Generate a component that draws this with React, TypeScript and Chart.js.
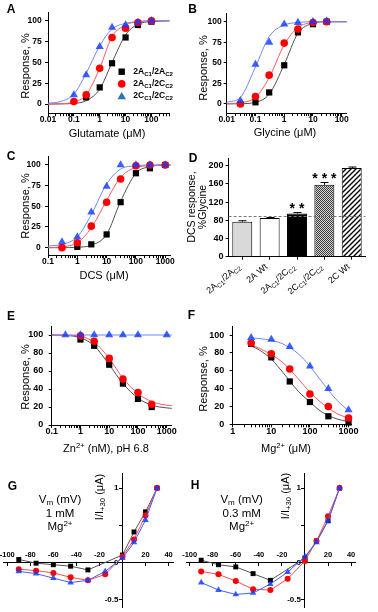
import React, { useEffect, useRef } from 'react';
import { Chart, registerables } from 'chart.js';

Chart.register(...registerables);

const FONT = "'Liberation Sans', Arial, Helvetica, sans-serif";
const PAGE_W = 378;
const PAGE_H = 612;

// ---------- colours ----------
const MK_BLACK = '#000000';
const MK_RED = '#ff0000';
const MK_BLUE = 'rgba(20, 60, 255, 0.82)';
const FIT_BLACK = '#505050';
const FIT_RED = '#ff5a5a';
const FIT_BLUE = '#7088ff';
const IV_LINE_BLACK = '#555555';
const IV_LINE_RED = '#ff4a4a';
const IV_LINE_BLUE = '#4060ff';
const LEGEND_BLUE = '#2a72b8';

// ---------- Panel A : glutamate ----------
const A_X = [0.1, 0.3, 1, 3, 10, 30, 100];
const A_BLACK = [null, 8, 20, 49, 80, 95, 99];
const A_RED = [3, 11, 43, 80, 91, 98, 100];
const A_BLUE = [11, 35, 69, 92, 95, 98, 100];
const A_FIT_X = [0.01, 0.03, 0.1, 0.3, 1, 3, 10, 30, 100, 500];
const A_FIT_BLACK = [0, 0.2, 0.8, 4, 18, 50, 83, 96, 99, 100];
const A_FIT_RED = [0, 0.3, 2.5, 11, 43, 81, 95, 99, 100, 100];
const A_FIT_BLUE = [1, 3, 12, 37, 70, 90, 97, 99, 100, 100];
const LEGEND_A = ['2A_{C1}/2A_{C2}', '2A_{C1}/2C_{C2}', '2C_{C1}/2C_{C2}'];

// ---------- Panel B : glycine ----------
const B_X = [0.03, 0.1, 0.3, 1, 3, 10, 30];
const B_BLACK = [null, 2, 14, 47, 87, 97, 100];
const B_RED = [0, 9, 35, 74, 91, 99, 100];
const B_BLUE = [4, 48, 75, 97, 99, 100, 101];
const B_FIT_X = [0.01, 0.03, 0.1, 0.3, 1, 3, 10, 30, 100, 150];
const B_FIT_BLUE = [2, 8, 45, 82, 96, 99, 100, 100, 100, 100];
const B_FIT_RED = [0.3, 1.5, 8, 32, 72, 93, 99, 100, 100, 100];
const B_FIT_BLACK = [0, 0.3, 2, 12, 48, 86, 98, 100, 100, 100];

// ---------- Panel C : DCS ----------
const C_X = [0.3, 1, 3, 10, 30, 100, 300, 1000];
const C_BLACK = [null, 1, 4, 16, 55, 90, 96, 100];
const C_RED = [0, 6, 26, 55, 83, 99, 100, 100];
const C_BLUE = [7, 13, 43, 74, 100, 100, 100, 100];
const C_FIT_X = [0.1, 0.3, 1, 3, 10, 30, 100, 300, 1000, 1500];
const C_FIT_BLUE = [2, 4, 13, 40, 77, 95, 99, 100, 100, 100];
const C_FIT_RED = [0, 1, 6, 24, 57, 85, 97, 99, 100, 100];
const C_FIT_BLACK = [0, 0, 0.5, 3, 16, 56, 90, 98, 100, 100];

// ---------- Panel D : DCS response bars ----------
const D_LABELS = ['2A_{C1}/2A_{C2}', '2A Wt', '2A_{C1}/2C_{C2}', '2C_{C1}/2C_{C2}', '2C Wt'];
const D_VALUES = [77, 85, 95, 158, 195];
const D_ERR = [2, 1, 2, 5, 2];
const D_SIG = ['', '', '**', '***', ''];
const D_REF = 90;
const D_YTICKS = [0, 40, 80, 120, 160, 200];

// ---------- Panel E : Zn ----------
const E_X = [0.3, 1, 3, 10, 30, 100, 300, 1000];
const E_BLUE = [100, 100, 100, 100, 100, 100, null, 100];
const E_RED = [null, 99, 93, 74, 51, 36, 23, null];
const E_BLACK = [null, 95, 88, 67, 46, 29, 20, null];
const E_FIT_X = [0.1, 0.3, 1, 3, 10, 30, 100, 300, 1000, 1500];
const E_FIT_BLUE = [100, 100, 100, 100, 100, 100, 100, 100, 100, 100];
const E_FIT_RED = [100, 99.8, 98.5, 92, 74, 52, 35, 26, 22, 21.5];
const E_FIT_BLACK = [100, 99.5, 97, 88, 67, 46, 30, 22, 19, 18.5];

// ---------- Panel F : Mg ----------
const F_X = [3, 10, 30, 100, 300, 1000];
const F_BLUE = [97, 95, 87, 65, 40, 16];
const F_RED = [91, 79, 62, 34, 20, 7];
const F_BLACK = [90, 75, 48, 25, 9, 2];
const F_FIT_X = [3, 5, 10, 20, 50, 100, 200, 500, 1000];
const F_FIT_BLUE = [97, 96, 94, 90, 79, 65, 48, 27, 15];
const F_FIT_RED = [89, 85, 78, 69, 51, 36, 24, 12, 7];
const F_FIT_BLACK = [88, 83, 73, 58, 37, 25, 14, 6, 3];

// ---------- Panels G/H : I-V ----------
const IV_X = [-90, -75, -60, -45, -30, -15, 0, 10, 20, 30];
const G_BLACK = [0.04, -0.01, -0.03, -0.05, -0.1, null, 0.1, 0.41, 0.68, 1.0];
const G_RED = [-0.09, -0.11, -0.14, -0.2, -0.24, -0.16, 0.08, 0.31, 0.63, 1.0];
const G_BLUE = [-0.12, -0.15, -0.21, -0.27, -0.24, -0.12, 0.06, 0.27, 0.57, 1.0];
const H_BLACK = [0.03, -0.03, -0.06, -0.15, -0.24, null, 0.06, 0.29, 0.56, 1.0];
const H_RED = [-0.12, -0.16, -0.25, -0.36, -0.37, -0.22, 0.02, 0.29, 0.62, 1.0];
const H_BLUE = [-0.27, -0.37, -0.43, -0.41, -0.29, -0.13, 0.08, 0.27, 0.56, 1.0];
const IV_XTICKS = [-100, -80, -60, -40, -20, 0, 20, 40];
const IV_YTICKS = [-0.5, 0, 0.5, 1];

const Y_TICKS_25 = [0, 25, 50, 75, 100];
const Y_TICKS_20 = [0, 20, 40, 60, 80, 100];

// ---------- helpers ----------
type Num = number | null;
type Box = { l: number; t: number; r: number; b: number };

const pts = (xs: number[], ys: Num[]) =>
  xs.map((x, i) => ({ x, y: ys[i] })).filter((p) => p.y !== null && p.y !== undefined);

const markers = (xs: number[], ys: Num[], style: string, color: string, r: number, order: number) => ({
  data: pts(xs, ys),
  showLine: false,
  pointStyle: style,
  pointRadius: r,
  pointHoverRadius: r,
  pointBackgroundColor: color,
  pointBorderColor: color,
  pointBorderWidth: 0,
  order,
  clip: false,
});

const fitLine = (xs: number[], ys: Num[], color: string, order: number) => ({
  data: pts(xs, ys),
  pointRadius: 0,
  borderColor: color,
  borderWidth: 1,
  cubicInterpolationMode: 'monotone',
  fill: false,
  order,
  clip: false,
});

const ivSeries = (xs: number[], ys: Num[], style: string, color: string, line: string, r: number, order: number) => ({
  data: pts(xs, ys),
  showLine: true,
  borderColor: line,
  borderWidth: 1,
  tension: 0,
  pointStyle: style,
  pointRadius: r,
  pointHoverRadius: r,
  pointBackgroundColor: color,
  pointBorderColor: color,
  pointBorderWidth: 0,
  order,
  clip: false,
});

const GRID = { drawOnChartArea: false, drawTicks: true, tickLength: 3, color: '#000', lineWidth: 1 };
const BORDER = { display: true, color: '#000', width: 1 };
const tickFont = (size: number) => ({ family: FONT, size, weight: 'bold' as const });

const zeroPad = (s: any) => {
  s.paddingLeft = 0; s.paddingRight = 0; s.paddingTop = 0; s.paddingBottom = 0;
};
const fitXTo = (h: number) => (s: any) => { s.height = h; zeroPad(s); };
const fitYTo = (w: number) => (s: any) => { s.width = w; zeroPad(s); };

const isDecade = (v: number) => Math.abs(Math.log10(v) - Math.round(Math.log10(v))) < 1e-6;
const decadeLabel = (v: number) => {
  const e = Math.round(Math.log10(v));
  return e < 0 ? Math.pow(10, e).toFixed(-e) : String(Math.round(Math.pow(10, e)));
};
function logTicks(min: number, max: number) {
  const out: { value: number }[] = [];
  for (let e = Math.floor(Math.log10(min)); e <= Math.ceil(Math.log10(max)); e++) {
    for (let m = 1; m <= 9; m++) {
      const v = parseFloat((m * Math.pow(10, e)).toPrecision(6));
      if (v >= min * 0.999 && v <= max * 1.001) out.push({ value: v });
    }
  }
  return out;
}

function logX(min: number, max: number, size: number, pad: number, box: Box) {
  return {
    type: 'logarithmic',
    min,
    max,
    afterBuildTicks: (s: any) => { s.ticks = logTicks(min, max); },
    afterFit: fitXTo(PAGE_H - box.b),
    grid: GRID,
    border: BORDER,
    ticks: {
      autoSkip: false, maxRotation: 0, minRotation: 0,
      font: tickFont(size), color: '#000', padding: pad,
      callback: (v: any) => (isDecade(Number(v)) ? decadeLabel(Number(v)) : ''),
    },
  };
}
function linY(min: number, max: number, ticks: number[], size: number, pad: number, box: Box) {
  return {
    type: 'linear',
    min,
    max,
    afterBuildTicks: (s: any) => { s.ticks = ticks.map((value) => ({ value })); },
    afterFit: fitYTo(box.l),
    grid: GRID,
    border: BORDER,
    ticks: { font: tickFont(size), color: '#000', padding: pad, callback: (v: any) => String(v) },
  };
}

// chart area = box; left/bottom room is taken by the axis boxes
const edgePad = (box: Box) => ({ left: 0, top: box.t, right: PAGE_W - box.r, bottom: 0 });
// chart area = box; positioned (crossing) axes take no room
const fullPad = (box: Box) => ({ left: box.l, top: box.t, right: PAGE_W - box.r, bottom: PAGE_H - box.b });

function baseConfig(type: string, data: any, padding: any, scales: any, plugins: any[] = []) {
  return {
    type,
    data,
    options: {
      responsive: false,
      maintainAspectRatio: false,
      animation: false,
      devicePixelRatio: 1,
      events: [],
      layout: { padding },
      plugins: { legend: { display: false }, tooltip: { enabled: false } },
      scales,
    },
    plugins,
  };
}

// rich text with _{sub}
function parseRich(s: string) {
  const out: { t: string; sub: boolean }[] = [];
  const re = /_\{([^}]*)\}/g;
  let last = 0;
  let m: RegExpExecArray | null;
  while ((m = re.exec(s))) {
    if (m.index > last) out.push({ t: s.slice(last, m.index), sub: false });
    out.push({ t: m[1], sub: true });
    last = re.lastIndex;
  }
  if (last < s.length) out.push({ t: s.slice(last), sub: false });
  return out;
}
function drawRich(ctx: CanvasRenderingContext2D, s: string, x: number, y: number, size: number, weight: string, align: 'left' | 'right') {
  const segs = parseRich(s);
  const fontOf = (sub: boolean) => `${weight} ${sub ? size * 0.72 : size}px ${FONT}`;
  let total = 0;
  const widths = segs.map((sg) => {
    ctx.font = fontOf(sg.sub);
    const w = ctx.measureText(sg.t).width;
    total += w;
    return w;
  });
  let cx = align === 'right' ? x - total : x;
  ctx.textAlign = 'left';
  ctx.textBaseline = 'middle';
  segs.forEach((sg, i) => {
    ctx.font = fontOf(sg.sub);
    ctx.fillText(sg.t, cx, sg.sub ? y + size * 0.3 : y);
    cx += widths[i];
  });
}

// ---------- plugins ----------
const LEGEND_STYLES = ['rect', 'circle', 'triangle'];
const LEGEND_COLORS = [MK_BLACK, MK_RED, LEGEND_BLUE];
const legendPlugin = {
  id: 'legendA',
  afterDatasetsDraw(chart: any) {
    const { ctx, chartArea } = chart;
    const x0 = chartArea.left + 73.7;
    const y0 = chartArea.top + 59.2;
    ctx.save();
    LEGEND_A.forEach((lab, i) => {
      const y = y0 + i * 12.2;
      ctx.fillStyle = LEGEND_COLORS[i];
      ctx.beginPath();
      if (LEGEND_STYLES[i] === 'rect') ctx.rect(x0 - 3.2, y - 3.2, 6.4, 6.4);
      else if (LEGEND_STYLES[i] === 'circle') ctx.arc(x0, y, 3.8, 0, Math.PI * 2);
      else { ctx.moveTo(x0, y - 4.2); ctx.lineTo(x0 - 4.3, y + 3.2); ctx.lineTo(x0 + 4.3, y + 3.2); ctx.closePath(); }
      ctx.fill();
      ctx.fillStyle = '#000';
      drawRich(ctx, lab, x0 + 11.6, y, 8.5, 'bold', 'left');
    });
    ctx.restore();
  },
};

const dPlugin = {
  id: 'dExtras',
  afterDatasetsDraw(chart: any) {
    const { ctx, chartArea, scales } = chart;
    const y = scales.y;
    ctx.save();
    const yr = Math.round(y.getPixelForValue(D_REF)) + 0.5;
    ctx.strokeStyle = '#7a7a7a';
    ctx.lineWidth = 1;
    ctx.setLineDash([3, 2]);
    ctx.beginPath();
    ctx.moveTo(chartArea.left, yr);
    ctx.lineTo(chartArea.right, yr);
    ctx.stroke();
    ctx.setLineDash([]);
    const meta = chart.getDatasetMeta(0);
    meta.data.forEach((bar: any, i: number) => {
      const top = y.getPixelForValue(D_VALUES[i] + D_ERR[i]);
      const bx = Math.round(bar.x) + 0.5;
      ctx.strokeStyle = '#000';
      ctx.lineWidth = 1;
      ctx.beginPath();
      ctx.moveTo(bx, bar.y);
      ctx.lineTo(bx, top);
      ctx.moveTo(bx - 4, top);
      ctx.lineTo(bx + 4, top);
      ctx.stroke();
      if (D_SIG[i]) {
        ctx.fillStyle = '#000';
        ctx.font = `bold 14px ${FONT}`;
        ctx.textAlign = 'center';
        ctx.textBaseline = 'alphabetic';
        ctx.fillText(D_SIG[i].split('').join(' '), bar.x, top + 0.5);
      }
      ctx.save();
      ctx.translate(bar.x - 3, chartArea.bottom + 9);
      ctx.rotate((-40 * Math.PI) / 180);
      ctx.fillStyle = '#000';
      drawRich(ctx, D_LABELS[i], 0, 0, 9, 'normal', 'right');
      ctx.restore();
    });
    ctx.restore();
  },
};

function makeChecker() {
  const c = document.createElement('canvas');
  c.width = 2; c.height = 2;
  const g = c.getContext('2d')!;
  g.fillStyle = '#d8d8d8'; g.fillRect(0, 0, 2, 2);
  g.fillStyle = '#3a3a3a'; g.fillRect(0, 0, 1, 1); g.fillRect(1, 1, 1, 1);
  return g.createPattern(c, 'repeat');
}
function makeHatch() {
  const c = document.createElement('canvas');
  c.width = 5; c.height = 5;
  const g = c.getContext('2d')!;
  g.fillStyle = '#fff'; g.fillRect(0, 0, 5, 5);
  g.strokeStyle = '#000'; g.lineWidth = 1.4;
  g.beginPath();
  g.moveTo(-1, 6); g.lineTo(6, -1);
  g.moveTo(-1, 1); g.lineTo(1, -1);
  g.moveTo(4, 6); g.lineTo(6, 4);
  g.stroke();
  return g.createPattern(c, 'repeat');
}

// ---------- builders ----------
function doseChart(
  X: number[], black: Num[], red: Num[], blue: Num[],
  FX: number[], fb: Num[], fr: Num[], fk: Num[],
  box: Box, scales: any, plugins: any[] = []
) {
  return baseConfig(
    'line',
    {
      datasets: [
        markers(X, blue, 'triangle', MK_BLUE, 4.7, 0),
        markers(X, red, 'circle', MK_RED, 3.8, 1),
        markers(X, black, 'rect', MK_BLACK, 4.4, 2),
        fitLine(FX, fb, FIT_BLUE, 3),
        fitLine(FX, fr, FIT_RED, 4),
        fitLine(FX, fk, FIT_BLACK, 5),
      ],
    },
    edgePad(box),
    scales,
    plugins
  );
}

const BOX_A: Box = { l: 48, t: 12.5, r: 169.5, b: 113.2 };
const BOX_B: Box = { l: 226.7, t: 13.5, r: 346.8, b: 113 };
const BOX_C: Box = { l: 48, t: 156.7, r: 170.4, b: 255.1 };
const BOX_D: Box = { l: 228.6, t: 158.4, r: 365.4, b: 256.7 };
const BOX_E: Box = { l: 51.7, t: 326, r: 171.8, b: 425 };
const BOX_F: Box = { l: 232.7, t: 326.1, r: 351.6, b: 424.3 };
const BOX_G: Box = { l: 3.7, t: 473.2, r: 173.2, b: 607.1 };
const BOX_H: Box = { l: 186.2, t: 473.2, r: 355.7, b: 607.1 };

const buildA = () =>
  doseChart(A_X, A_BLACK, A_RED, A_BLUE, A_FIT_X, A_FIT_BLUE, A_FIT_RED, A_FIT_BLACK, BOX_A,
    { x: logX(0.01, 500, 8.5, -1.5, BOX_A), y: linY(-11, 110, Y_TICKS_25, 8.5, 3.3, BOX_A) },
    [legendPlugin]);

const buildB = () =>
  doseChart(B_X, B_BLACK, B_RED, B_BLUE, B_FIT_X, B_FIT_BLUE, B_FIT_RED, B_FIT_BLACK, BOX_B,
    { x: logX(0.01, 150, 8.5, -1.5, BOX_B), y: linY(-11, 110, Y_TICKS_25, 8.5, 2, BOX_B) });

const buildC = () =>
  doseChart(C_X, C_BLACK, C_RED, C_BLUE, C_FIT_X, C_FIT_BLUE, C_FIT_RED, C_FIT_BLACK, BOX_C,
    { x: logX(0.1, 1500, 8.5, -1.5, BOX_C), y: linY(-9, 110, Y_TICKS_25, 8.5, 4.3, BOX_C) });

const buildE = () =>
  doseChart(E_X, E_BLACK, E_RED, E_BLUE, E_FIT_X, E_FIT_BLUE, E_FIT_RED, E_FIT_BLACK, BOX_E,
    { x: logX(0.1, 1500, 9, -1.5, BOX_E), y: linY(0, 110, Y_TICKS_20, 9, 5.4, BOX_E) });

const buildF = () =>
  doseChart(F_X, F_BLACK, F_RED, F_BLUE, F_FIT_X, F_FIT_BLUE, F_FIT_RED, F_FIT_BLACK, BOX_F,
    { x: logX(1, 1200, 9, -1.5, BOX_F), y: linY(0, 110, Y_TICKS_20, 9, 5.4, BOX_F) });

const buildD = () =>
  baseConfig(
    'bar',
    {
      labels: D_LABELS,
      datasets: [
        {
          data: D_VALUES,
          backgroundColor: ['#d9d9d9', '#ffffff', '#000000', makeChecker(), makeHatch()],
          borderColor: '#000',
          borderWidth: 1,
          barPercentage: 0.73,
          categoryPercentage: 1,
        },
      ],
    },
    edgePad(BOX_D),
    {
      x: { type: 'category', offset: true, afterFit: fitXTo(PAGE_H - BOX_D.b), grid: { ...GRID, offset: false }, border: BORDER, ticks: { display: false } },
      y: linY(0, 216, D_YTICKS, 9, 2, BOX_D),
    },
    [dPlugin]
  );

function ivScales() {
  return {
    x: {
      type: 'linear', min: -103, max: 44, position: { y: 0 },
      afterBuildTicks: (s: any) => { s.ticks = IV_XTICKS.map((value) => ({ value })); },
      afterFit: fitXTo(0), grid: GRID, border: BORDER,
      ticks: { font: tickFont(7.5), color: '#000', padding: -15.5, maxRotation: 0, autoSkip: false,
        callback: (v: any) => (Number(v) === 0 ? '' : String(v)) },
    },
    y: {
      type: 'linear', min: -0.6, max: 1.2, position: { x: 0 },
      afterBuildTicks: (s: any) => { s.ticks = IV_YTICKS.map((value) => ({ value })); },
      afterFit: fitYTo(0), grid: GRID, border: BORDER,
      ticks: { font: tickFont(8), color: '#000', callback: (v: any) => (Number(v) === 0.5 ? '' : `${v}\u2002`) },
    },
  };
}
const ivChart = (black: Num[], red: Num[], blue: Num[], box: Box) =>
  baseConfig(
    'line',
    {
      datasets: [
        ivSeries(IV_X, blue, 'triangle', MK_BLUE, IV_LINE_BLUE, 3.8, 0),
        ivSeries(IV_X, red, 'circle', MK_RED, IV_LINE_RED, 3, 1),
        ivSeries(IV_X, black, 'rect', MK_BLACK, IV_LINE_BLACK, 3.5, 2),
      ],
    },
    fullPad(box),
    ivScales()
  );
const buildG = () => ivChart(G_BLACK, G_RED, G_BLUE, BOX_G);
const buildH = () => ivChart(H_BLACK, H_RED, H_BLUE, BOX_H);

const BUILDERS = [buildA, buildB, buildC, buildD, buildE, buildF, buildG, buildH];

// ---------- components ----------
function ChartCanvas({ build }: { build: () => any }) {
  const ref = useRef<HTMLCanvasElement | null>(null);
  useEffect(() => {
    if (!ref.current) return;
    const chart = new Chart(ref.current, build() as any);
    return () => chart.destroy();
  }, [build]);
  return (
    <canvas
      ref={ref}
      width={PAGE_W}
      height={PAGE_H}
      style={{ position: 'absolute', left: 0, top: 0, width: PAGE_W, height: PAGE_H }}
    />
  );
}

function Label({ x, y, size = 11, bold = false, rotate = false, children }: any) {
  return (
    <div
      style={{
        position: 'absolute',
        left: x,
        top: y,
        transform: `translate(-50%, -50%)${rotate ? ' rotate(-90deg)' : ''}`,
        font: `${bold ? 'bold ' : ''}${size}px ${FONT}`,
        lineHeight: 1,
        whiteSpace: 'nowrap',
        color: '#000',
      }}
    >
      {children}
    </div>
  );
}
const Sup = ({ children }: any) => (
  <span style={{ fontSize: '0.7em', position: 'relative', top: '-0.5em' }}>{children}</span>
);
const Sub = ({ children }: any) => (
  <span style={{ fontSize: '0.7em', position: 'relative', top: '0.3em' }}>{children}</span>
);

export default function App() {
  return (
    <div style={{ position: 'absolute', left: 0, top: 0, width: PAGE_W, height: PAGE_H, background: '#fff', overflow: 'hidden' }}>
      {BUILDERS.map((b, i) => (
        <ChartCanvas key={i} build={b} />
      ))}
      {/* panel letters */}
      <Label x={11} y={9} size={12} bold>A</Label>
      <Label x={192.5} y={8.5} size={12} bold>B</Label>
      <Label x={11} y={156} size={12} bold>C</Label>
      <Label x={193} y={157.5} size={12} bold>D</Label>
      <Label x={11} y={316} size={12} bold>E</Label>
      <Label x={191.5} y={315} size={12} bold>F</Label>
      <Label x={12.5} y={486} size={12} bold>G</Label>
      <Label x={195} y={485} size={12} bold>H</Label>

      {/* axis titles */}
      <Label x={107} y={133}>Glutamate (μM)</Label>
      <Label x={25} y={66} rotate>Response, %</Label>
      <Label x={285} y={131.5}>Glycine (μM)</Label>
      <Label x={203} y={68} rotate>Response, %</Label>
      <Label x={104} y={275}>DCS (μM)</Label>
      <Label x={25} y={206} rotate>Response, %</Label>
      <Label x={190.5} y={207} size={10.5} rotate>DCS response,</Label>
      <Label x={201.5} y={207} size={10.5} rotate>%Glycine</Label>
      <Label x={106} y={447.5}>Zn<Sup>2+</Sup> (nM), pH 6.8</Label>
      <Label x={24.5} y={377} rotate>Response, %</Label>
      <Label x={286} y={447.5}>Mg<Sup>2+</Sup> (μM)</Label>
      <Label x={203} y={379} rotate>Response, %</Label>
      <Label x={99} y={496.5} rotate>I/I<Sub>+30</Sub> (μA)</Label>
      <Label x={285} y={496} rotate>I/I<Sub>+30</Sub> (μA)</Label>

      {/* G / H annotations */}
      <Label x={60} y={500} size={11.5}>V<Sub>m</Sub> (mV)</Label>
      <Label x={60} y={513.5} size={11.5}>1 mM</Label>
      <Label x={60} y={527} size={11.5}>Mg<Sup>2+</Sup></Label>
      <Label x={241.7} y={500} size={11.5}>V<Sub>m</Sub> (mV)</Label>
      <Label x={241.7} y={513.5} size={11.5}>0.3 mM</Label>
      <Label x={241.7} y={527} size={11.5}>Mg<Sup>2+</Sup></Label>
    </div>
  );
}
